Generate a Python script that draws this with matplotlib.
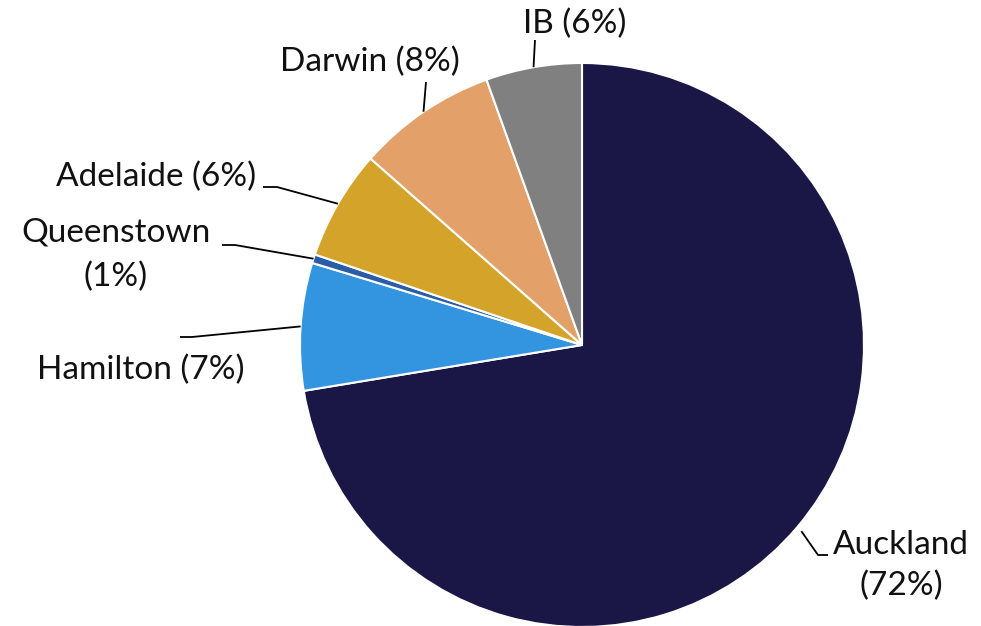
import matplotlib
matplotlib.use("Agg")
import matplotlib.pyplot as plt
import numpy as np

# share of total (clockwise from 12 o'clock)
cities = ["Auckland", "Hamilton", "Queenstown", "Adelaide", "Darwin", "IB"]
shares = [72.4, 7.3, 0.5, 6.3, 8.0, 5.5]
labels = ["Auckland\n(72%)", "Hamilton (7%)", "Queenstown\n(1%)",
          "Adelaide (6%)", "Darwin (8%)", "IB (6%)"]
colors = ["#1a1646", "#3394e0", "#2a5ca8", "#d4a32a", "#e3a169", "#808080"]

plt.rcParams['font.family'] = ['Lato', 'DejaVu Sans']

W, H = 981, 626
CX, CY, R = 582, 345, 282


def px(x, y):
    # pixel position in the picture -> data coords of the pie (radius 1)
    return (x - CX) / R, (CY - y) / R


fig = plt.figure(figsize=(W / 100, H / 100), dpi=100)
ax = fig.add_axes([0, 0, 1, 1])
wedges, _ = ax.pie(shares, colors=colors, startangle=90, counterclock=False,
                   radius=1, center=(0, 0),
                   wedgeprops=dict(edgecolor="white", linewidth=1.5))
ax.set_aspect("auto")
x0, _ = px(0, 0)
x1, _ = px(W, 0)
_, y0 = px(0, H)
_, y1 = px(0, 0)
ax.set_xlim(x0, x1)
ax.set_ylim(y0, y1)
ax.axis("off")

# label layout: x centre, y of each text line, elbow points of the leader line
layout = {
    "Auckland": dict(x=901, ys=[545, 586], elbow=[(818, 555), (828, 555)], r=1.02),
    "Hamilton": dict(x=141, ys=[370], elbow=[(192, 337), (180, 337)], r=1.0),
    "Queenstown": dict(x=116, ys=[233, 277], elbow=[(235, 245), (222, 245)], r=1.0),
    "Adelaide": dict(x=156, ys=[177], elbow=[(277, 187), (263, 187)], r=1.0),
    "Darwin": dict(x=370, ys=[62], elbow=[(426, 82)], r=1.0),
    "IB": dict(x=575, ys=[24], elbow=[(535, 40)], r=1.0),
}

for w, city, lab in zip(wedges, cities, labels):
    L = layout[city]
    mid = np.deg2rad((w.theta1 + w.theta2) / 2)
    pts = [(L["r"] * np.cos(mid), L["r"] * np.sin(mid))] + [px(*p) for p in L["elbow"]]
    xs, ys = zip(*pts)
    ax.plot(xs, ys, color="black", lw=1.3, solid_capstyle="butt")
    for line, y in zip(lab.split("\n"), L["ys"]):
        tx, ty = px(L["x"], y)
        ax.text(tx, ty, line, ha="center", va="center", fontsize=24,
                color="#111111")

fig.savefig("out.png", dpi=100)
